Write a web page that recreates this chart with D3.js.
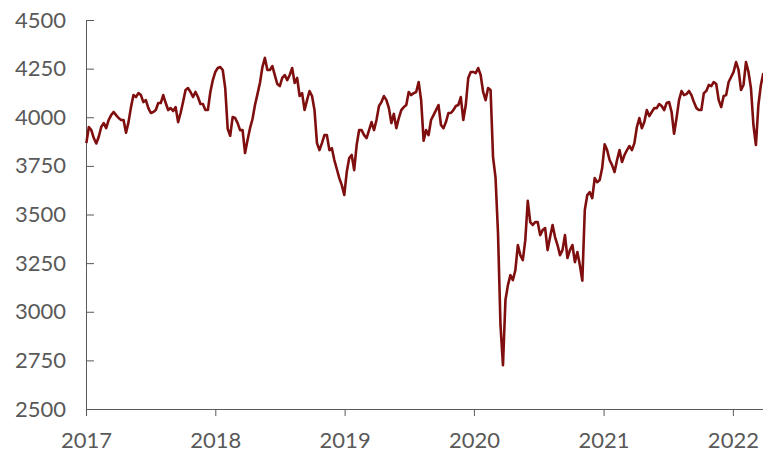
<!DOCTYPE html>
<html>
<head>
<meta charset="utf-8">
<script src="https://cdn.jsdelivr.net/npm/d3@7"></script>
<style>
  body { margin: 0; background: #fff; }
  .axis text { font-family: Lato, sans-serif; font-size: 22px; fill: #595959; }
  .axis path, .axis line { stroke: #595959; }
</style>
</head>
<body>
<script>
// weekly closes, first week starting 2017-01-02
var startWeek = "2017-01-02";
var weeklyClose = [
  3867, 3950, 3934, 3893, 3865, 3900, 3950, 3970, 3944, 3986,
  4011, 4027, 4011, 3996, 3986, 3986, 3920, 3975, 4052, 4114,
  4104, 4124, 4114, 4078, 4088, 4047, 4022, 4027, 4037, 4073,
  4073, 4114, 4073, 4037, 4047, 4032, 4052, 3975, 4022, 4078,
  4140, 4150, 4130, 4104, 4130, 4104, 4068, 4068, 4037, 4037,
  4130, 4191, 4233, 4253, 4258, 4243, 4150, 3940, 3905, 4001,
  3996, 3970, 3934, 3934, 3816, 3883, 3944, 3991, 4063, 4119,
  4176, 4258, 4305, 4243, 4243, 4263, 4217, 4171, 4160, 4202,
  4217, 4191, 4217, 4253, 4176, 4202, 4109, 4124, 4037, 4088,
  4135, 4109, 4037, 3867, 3831, 3867, 3908, 3908, 3831, 3841,
  3780, 3734, 3687, 3651, 3600, 3718, 3790, 3806, 3728, 3857,
  3934, 3934, 3908, 3893, 3934, 3975, 3934, 3986, 4058, 4078,
  4109, 4088, 4047, 3970, 4017, 3944, 3996, 4037, 4052, 4063,
  4130, 4114, 4124, 4130, 4181, 4088, 3880, 3934, 3908, 3986,
  4011, 4037, 4063, 3960, 3944, 3975, 4022, 4022, 4037, 4058,
  4063, 4104, 3986, 4063, 4202, 4233, 4233, 4227, 4253, 4217,
  4130, 4088, 4150, 4140, 3795, 3690, 3404, 2931, 2725, 3060,
  3137, 3188, 3163, 3214, 3343, 3291, 3265, 3368, 3570, 3461,
  3446, 3461, 3461, 3394, 3420, 3430, 3317, 3384, 3446, 3384,
  3343, 3291, 3317, 3394, 3276, 3317, 3343, 3255, 3307, 3240,
  3160, 3523, 3600, 3615, 3584, 3687, 3666, 3677, 3739, 3861,
  3831, 3780, 3754, 3718, 3780, 3831, 3770, 3806, 3831, 3852,
  3831, 3867, 3950, 3996, 3944, 3975, 4037, 4006, 4027, 4047,
  4047, 4068, 4058, 4037, 4073, 4078, 4027, 3915, 3996, 4088,
  4135, 4114, 4119, 4135, 4114, 4078, 4047, 4037, 4037, 4124,
  4135, 4166, 4160, 4181, 4171, 4088, 4052, 4109, 4114, 4181,
  4207, 4233, 4284, 4243, 4140, 4166, 4284, 4233, 4150, 3960,
  3857, 4063, 4166, 4227
];
var yTicks = [2500, 2750, 3000, 3250, 3500, 3750, 4000, 4250, 4500];
var xTickYears = [2017, 2018, 2019, 2020, 2021, 2022];

var width = 763, height = 452;
var plotLeft = 86, plotRight = 763, plotTop = 20, plotBottom = 409;

var parse = d3.timeParse("%Y-%m-%d");
var start = parse(startWeek);
var data = weeklyClose.map(function(v, i) {
    return { date: d3.timeWeek.offset(start, i), value: v };
});

var svg = d3.select('body')
    .append('svg')
    .attr('width', width)
    .attr('height', height);

var x = d3.scaleTime()
    .domain([new Date(2017, 0, 1), new Date(2022, 2, 27)])
    .range([plotLeft, plotRight]);

var y = d3.scaleLinear()
    .domain([2500, 4500])
    .range([plotBottom, plotTop]);

svg.append('g')
    .attr('class', 'axis')
    .attr('transform', `translate(0,${plotBottom})`)
    .call(d3.axisBottom(x)
        .tickValues(xTickYears.map(function(yr) { return new Date(yr, 0, 1); }))
        .tickFormat(d3.timeFormat('%Y'))
        .tickSizeInner(7)
        .tickSizeOuter(0)
        .tickPadding(16));

svg.append('g')
    .attr('class', 'axis')
    .attr('transform', `translate(${plotLeft},0)`)
    .call(d3.axisLeft(y)
        .tickValues(yTicks)
        .tickFormat(d3.format('d'))
        .tickSizeInner(-8)
        .tickSizeOuter(0)
        .tickPadding(20));

var line = d3.line()
    .x(function(d) { return x(d.date); })
    .y(function(d) { return y(d.value); });

svg.append('path')
    .datum(data)
    .attr('d', line)
    .attr('fill', 'none')
    .attr('stroke', '#7f0f0f')
    .attr('stroke-width', 2.6)
    .attr('stroke-linejoin', 'round');
</script>
</body>
</html>
